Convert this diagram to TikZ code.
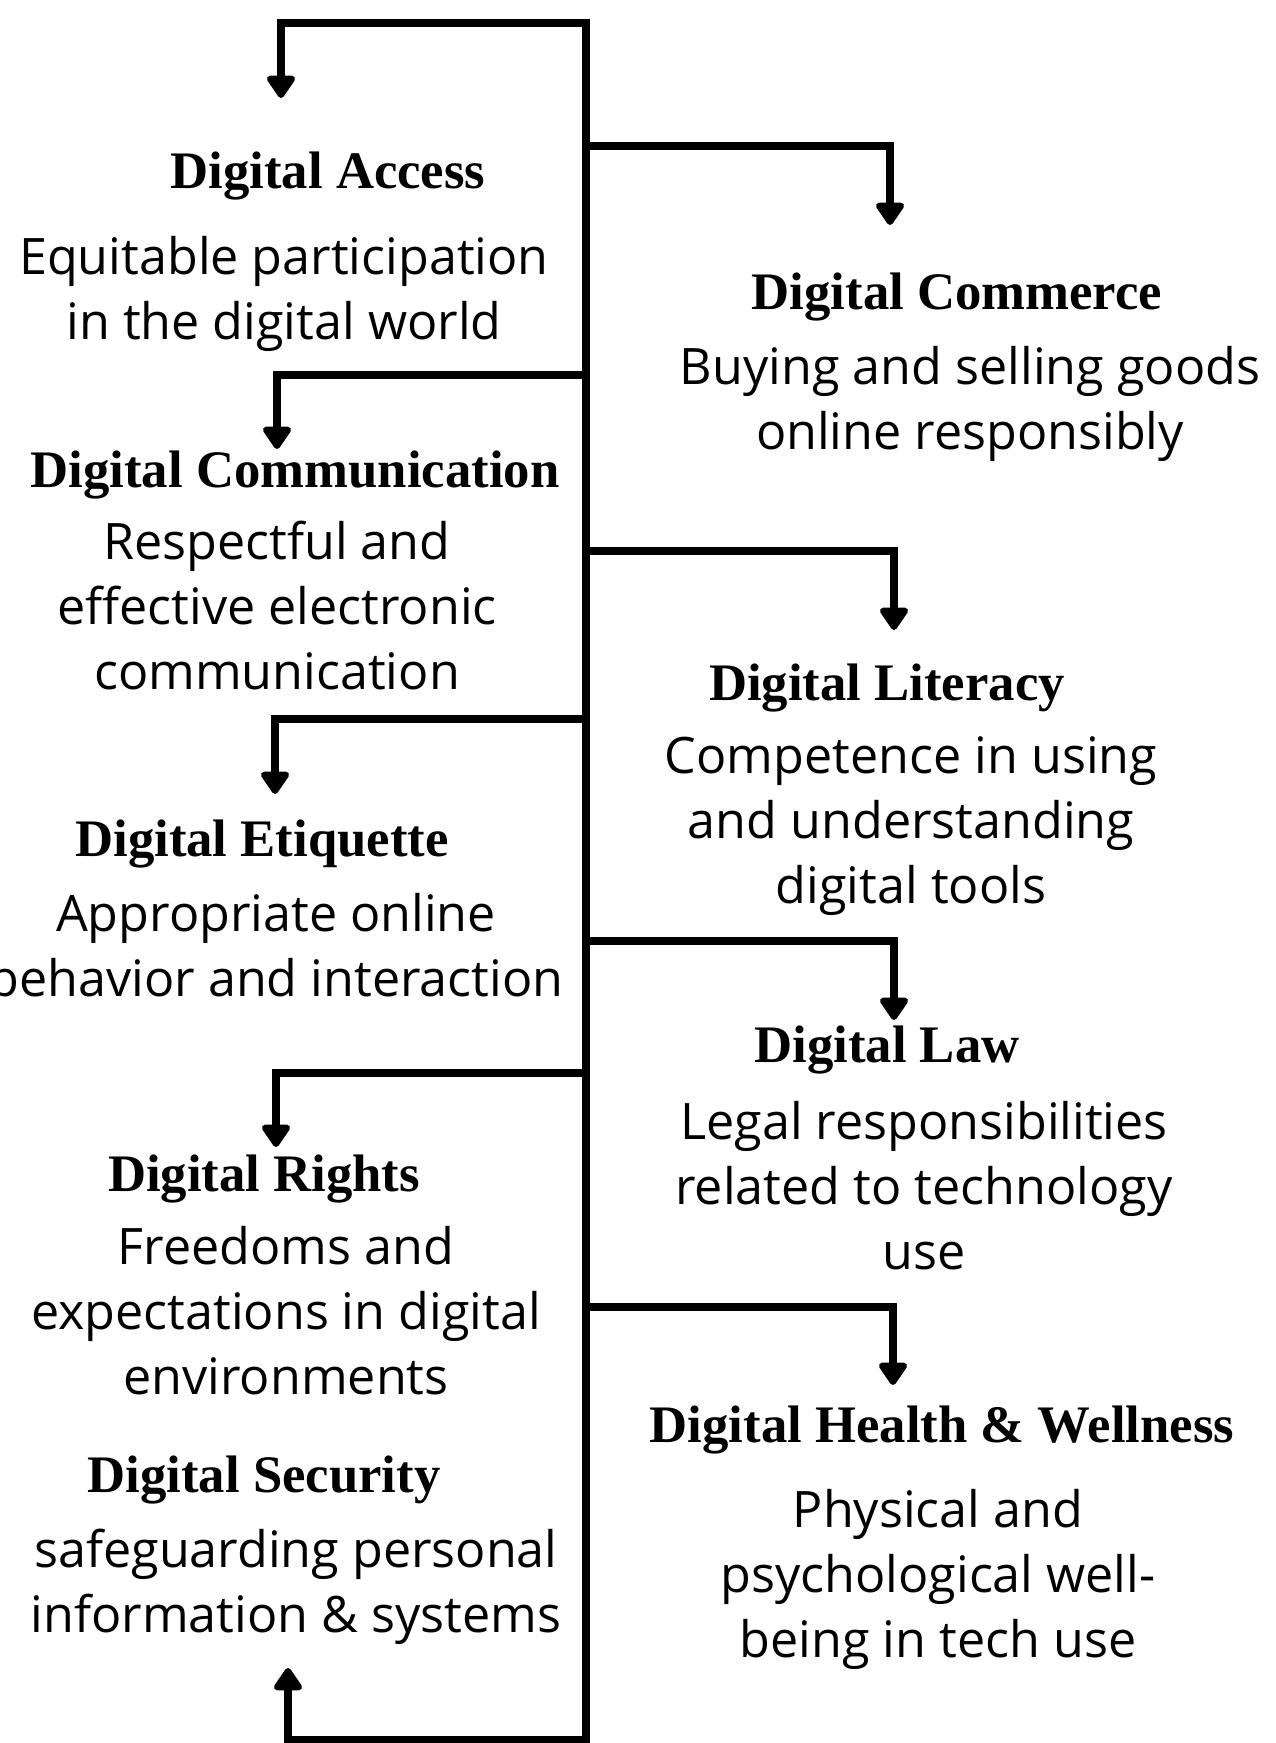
\documentclass[tikz,border=0pt]{standalone}
\usepackage{fontspec}
\usepackage{tikz}
\usetikzlibrary{arrows.meta,positioning}
\newfontfamily\headfont{Liberation Serif}
\newfontfamily\handfont{Open Sans}

\begin{document}
\begin{tikzpicture}[>={Triangle[width=0.32cm,length=0.25cm,round]}, line width=2.1pt,
    ttl/.style={font=\headfont\bfseries\fontsize{15}{18}\selectfont, anchor=base, inner sep=0pt},
    desc/.style={font=\handfont\fontsize{14.3}{18.5}\selectfont, align=center, anchor=base, inner sep=0pt}]
    \useasboundingbox (0,0) rectangle (12.75,17.43);

    % Left column: titles and descriptions (desc sits on its last line)
    \node[ttl] (acc) at (3.28,15.54) {Digital Access};
    \node[desc] (accd) at (2.84,14.03) {Equitable participation\\in the digital world};
    \node[ttl] (comm) at (2.95,12.55) {Digital Communication};
    \node[desc] (commd) at (2.77,10.53) {Respectful and\\effective electronic\\communication};
    \node[ttl] (eti) at (2.62,8.86) {Digital Etiquette};
    \node[desc] (etid) at (2.76,7.46) {Appropriate online\\behavior and interaction};
    \node[ttl] (rig) at (2.64,5.51) {Digital Rights};
    \node[desc] (rigd) at (2.86,3.48) {Freedoms and\\expectations in digital\\environments};
    \node[ttl] (sec) at (2.64,2.50) {Digital Security};
    \node[desc] (secd) at (2.96,1.10) {safeguarding personal\\information \& systems};

    % Right column: titles and descriptions
    \node[ttl] (com) at (9.57,14.33) {Digital Commerce};
    \node[desc] (comd) at (9.70,12.93) {Buying and selling goods\\online responsibly};
    \node[ttl] (lit) at (8.87,10.42) {Digital Literacy};
    \node[desc] (litd) at (9.11,8.39) {Competence in using\\and understanding\\digital tools};
    \node[ttl] (law) at (8.87,6.80) {Digital Law};
    \node[desc] (lawd) at (9.24,4.73) {Legal responsibilities\\related to technology\\use};
    \node[ttl] (hea) at (9.42,3.00) {Digital Health \& Wellness};
    \node[desc] (head) at (9.38,0.85) {Physical and\\psychological well-\\being in tech use};

    % Trunk ends and arrow tips
    \coordinate (top) at (5.86,17.20);
    \coordinate (bot) at (5.86,0.03);
    \coordinate (tacc) at (2.81,16.45);
    \coordinate (tsec) at (2.88,0.75);

    % Trunk with top and bottom arrows
    \draw[<->] (tsec) |- (bot) -- (top) -| (tacc);

    % Branches to the right
    \coordinate (jcom) at (5.86,15.97);
    \coordinate (tcom) at (8.90,15.18);
    \draw[->] (jcom) -| (tcom);
    \coordinate (jlit) at (5.86,11.92);
    \coordinate (tlit) at (8.94,11.13);
    \draw[->] (jlit) -| (tlit);
    \coordinate (jlaw) at (5.86,8.02);
    \coordinate (tlaw) at (8.94,7.23);
    \draw[->] (jlaw) -| (tlaw);
    \coordinate (jhea) at (5.86,4.36);
    \coordinate (thea) at (8.93,3.58);
    \draw[->] (jhea) -| (thea);

    % Branches to the left
    \coordinate (jcomm) at (5.86,13.68);
    \coordinate (tcomm) at (2.77,12.94);
    \draw[->] (jcomm) -| (tcomm);
    \coordinate (jeti) at (5.86,10.24);
    \coordinate (teti) at (2.75,9.49);
    \draw[->] (jeti) -| (teti);
    \coordinate (jrig) at (5.86,6.70);
    \coordinate (trig) at (2.76,5.96);
    \draw[->] (jrig) -| (trig);
\end{tikzpicture}
\end{document}
